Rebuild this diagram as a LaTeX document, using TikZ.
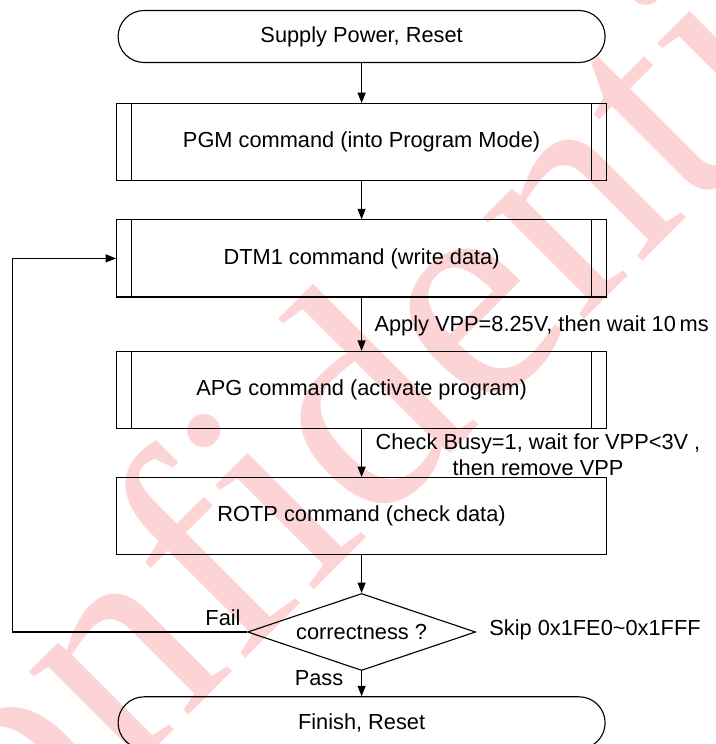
\documentclass[tikz,border=0pt]{standalone}
\usepackage{fontspec}
\setmainfont{Liberation Sans}
\newfontfamily\wmfont{Liberation Serif}
\usetikzlibrary{arrows.meta,shapes.geometric}
\definecolor{wmark}{RGB}{253,212,214}

\begin{document}
\begin{tikzpicture}[line width=0.8pt,
  >={Triangle[length=2.6mm,width=2mm]},
  font=\fontsize{15.5}{19}\selectfont,
  term/.style={draw,rectangle,rounded corners=0.65cm,minimum width=12.175cm,minimum height=1.3cm},
  proc/.style={draw,rectangle,minimum width=12.25cm,minimum height=1.93cm},
  subproc/.style={proc,path picture={
    \draw ([xshift=0.375cm]path picture bounding box.north west) -- ([xshift=0.375cm]path picture bounding box.south west);
    \draw ([xshift=-0.375cm]path picture bounding box.north east) -- ([xshift=-0.375cm]path picture bounding box.south east);}},
  decide/.style={draw,diamond,aspect=2.96,minimum width=5.7cm,minimum height=1.925cm,inner sep=0pt},
  lbl/.style={inner sep=0pt}]
 \useasboundingbox (0,0) rectangle (17.875,-18.6);
 % watermark
 \begin{scope}
  \clip (0,0) rectangle (17.875,-18.6);
  \node[anchor=base,rotate=45,text=wmark,inner sep=0pt,font=\wmfont\fontsize{222}{226}\selectfont] (wm) at (10.5,-12.1) {Confidential};
 \end{scope}
 % flow
 \node[term] (start) at (9.04,-0.9125) {Supply Power, Reset};
 \node[subproc] (pgm) at (9.04,-3.555) {PGM command (into Program Mode)};
 \node[subproc] (dtm) at (9.04,-6.46) {DTM1 command (write data)};
 \node[subproc] (apg) at (9.04,-9.75) {APG command (activate program)};
 \node[proc] (rotp) at (9.04,-12.905) {ROTP command (check data)};
 \node[decide] (chk) at (9.04,-15.8) {correctness ?};
 \node[term] (fin) at (9.04,-18.07) {Finish, Reset};
 % labels
 \node[lbl,anchor=west] (vpp) at (9.35,-8.14) {Apply VPP=8.25V, then wait 10\,ms};
 \node[lbl,align=center] (busy) at (13.45,-11.37) {Check Busy=1, wait for VPP<3V ,\\then remove VPP};
 \node[lbl] (fail) at (5.575,-15.45) {Fail};
 \node[lbl,anchor=west] (skip) at (12.22,-15.75) {Skip 0x1FE0\textasciitilde0x1FFF};
 \node[lbl] (pass) at (7.975,-16.95) {Pass};
 % arrows
 \draw[->] (start) -- (pgm);
 \draw[->] (pgm) -- (dtm);
 \draw[->] (dtm) -- (apg);
 \draw[->] (apg) -- (rotp);
 \draw[->] (rotp) -- (chk);
 \draw[->] (chk) -- (fin);
 \coordinate (back) at (0.32,-15.8);
 \draw[->] (chk.west) -- (back) |- (dtm.west);
\end{tikzpicture}
\end{document}
